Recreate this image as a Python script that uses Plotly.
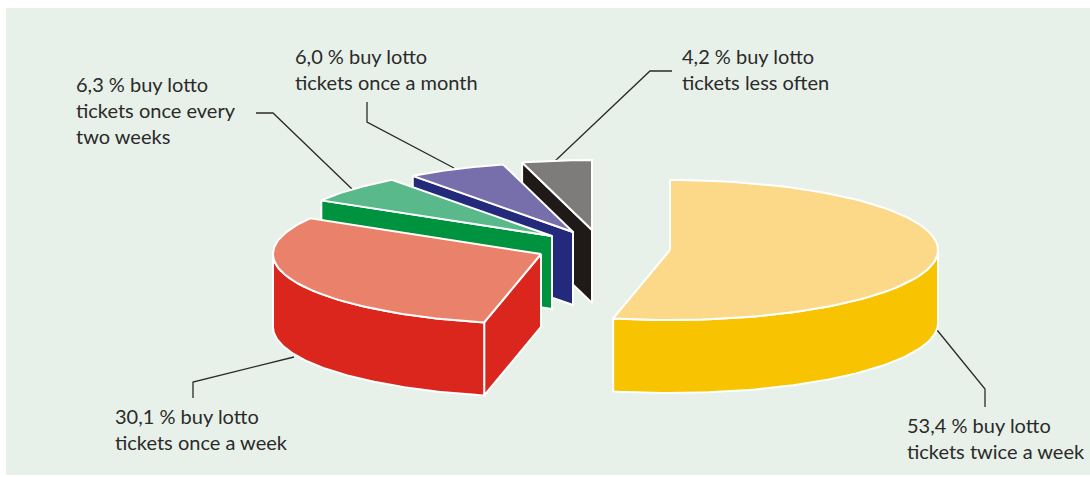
import math
import plotly.graph_objects as go

# ---- data ----
categories = ["twice a week", "once a week", "once every two weeks", "once a month", "less often"]
values = [53.4, 30.1, 6.3, 6.0, 4.2]
label_lines = [
    ["53,4 % buy lotto", "tickets twice a week"],
    ["30,1 % buy lotto", "tickets once a week"],
    ["6,3 % buy lotto", "tickets once every", "two weeks"],
    ["6,0 % buy lotto", "tickets once a month"],
    ["4,2 % buy lotto", "tickets less often"],
]

# ---- styles ----
top_colors = ["#fbd988", "#ea826b", "#5ab98b", "#776fab", "#7d7c7a"]
wall_colors = ["#f8c300", "#da261c", "#00933f", "#232a7c", "#1f1a17"]
PANEL = "#e7f1ea"
INK = "#2b2a29"
FONT = "Lato"
FONT_SIZE = 20

# ---- projection of the tilted, exploded pie (pixel axes) ----
RX, RY, DEPTH = 268, 70, 73
pivots = [(670, 250), (541, 254), (552, 236), (573, 232), (592, 230)]
label_pos = [(905, 438), (113, 429), (74, 110), (293, 69), (680, 69)]
leaders = [
    ([937, 985, 985], [330, 389, 407]),
    ([294, 193, 193], [357, 382, 398]),
    ([352, 273, 256], [189, 113, 113]),
    ([454, 367, 367], [168, 122, 102]),
    ([555, 650, 672], [161, 71, 71]),
]


def rim(px, py, deg):
    a = math.radians(deg)
    return px + RX * math.sin(a), py - RY * math.cos(a)


def arc(px, py, a0, a1, dy=0, n=80):
    pts = [rim(px, py, a0 + (a1 - a0) * i / n) for i in range(n + 1)]
    return [p[0] for p in pts], [p[1] + dy for p in pts]


def poly(fig, xs, ys, color):
    fig.add_trace(go.Scatter(
        x=xs + xs[:1], y=ys + ys[:1], mode="lines", fill="toself", fillcolor=color,
        line=dict(color="white", width=2, shape="linear"), hoverinfo="skip", showlegend=False,
    ))


fig = go.Figure()

for (lx, ly) in leaders:
    fig.add_trace(go.Scatter(x=lx, y=ly, mode="lines", line=dict(color=INK, width=1.3),
                             hoverinfo="skip", showlegend=False))

total = sum(values)
bounds = [0.0]
for v in values:
    bounds.append(bounds[-1] + 360.0 * v / total)

# paint from the back slice to the front slice, the largest slice last
for i in [4, 3, 2, 1, 0]:
    a0, a1 = bounds[i], bounds[i + 1]
    px, py = pivots[i]
    sx, sy = rim(px, py, a0)
    # radial face at the start of the slice
    if i != 0:
        poly(fig, [sx, px, px, sx], [sy, py, py + DEPTH, sy + DEPTH], wall_colors[i])
    # visible outer wall (front half of the ellipse)
    w0, w1 = max(a0, 90), min(a1, 270)
    if w1 > w0:
        tx, ty = arc(px, py, w0, w1)
        bx, by = arc(px, py, w1, w0, DEPTH)
        poly(fig, tx + bx, ty + by, wall_colors[i])
    # top face
    tx, ty = arc(px, py, a0, a1)
    poly(fig, [px] + tx, [py] + ty, top_colors[i])

annotations = []
for lines, (lx, ly) in zip(label_lines, label_pos):
    annotations.append(dict(
        x=lx, y=ly, xref="x", yref="y", xanchor="left", yanchor="middle", align="left",
        text="<br>".join(lines), showarrow=False, font=dict(family=FONT, size=FONT_SIZE, color=INK),
    ))

fig.update_layout(
    width=1090, height=477, margin=dict(l=0, r=0, t=0, b=0),
    paper_bgcolor="white", plot_bgcolor="white", showlegend=False, annotations=annotations,
    xaxis=dict(range=[0, 1090], visible=False, fixedrange=True),
    yaxis=dict(range=[477, 0], visible=False, fixedrange=True),
    shapes=[dict(type="rect", x0=6, x1=1090, y0=8, y1=475, xref="x", yref="y",
                 fillcolor=PANEL, line_width=0, layer="below")],
)

fig.write_html("out.html", config={"displayModeBar": False},
               post_script="document.body.style.margin='0';document.body.style.overflow='hidden';")
